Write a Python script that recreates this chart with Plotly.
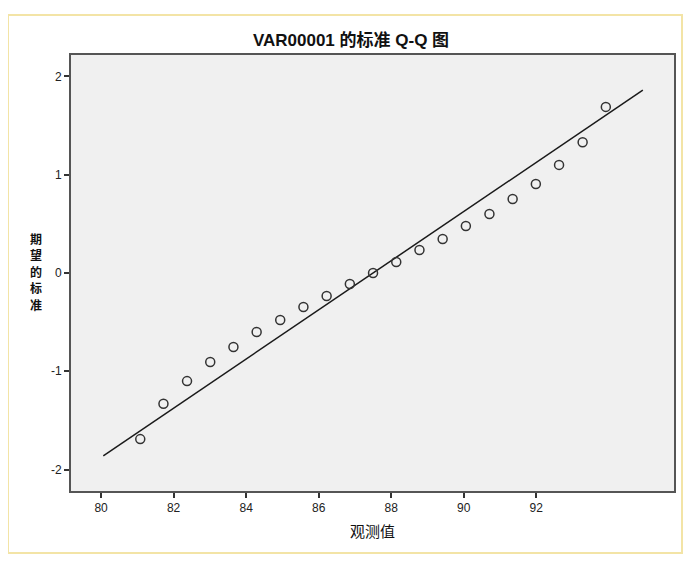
import plotly.graph_objects as go

# Data
observed = [81.08, 81.72, 82.37, 83.01, 83.65, 84.29, 84.94, 85.58, 86.22, 86.86,
            87.50, 88.14, 88.78, 89.42, 90.06, 90.71, 91.35, 91.99, 92.63, 93.28, 93.92]
expected = [-1.69, -1.33, -1.10, -0.905, -0.753, -0.60, -0.478, -0.346, -0.234, -0.112,
            0.0, 0.112, 0.234, 0.346, 0.478, 0.60, 0.753, 0.905, 1.10, 1.33, 1.69]
line_mean = 87.5
line_sd = 4.0
line_x = [80.06, 94.94]
line_y = [(v - line_mean) / line_sd for v in line_x]

x_ticks = [80, 82, 84, 86, 88, 90, 92]
y_ticks = [-2, -1, 0, 1, 2]

title_text = "VAR00001 的标准 Q-Q 图"
x_title = "观测值"
y_title = "期望的标准"

# page body has an 8px margin; figure placed at (8, 8)
OFF = 8
PL, PT, PW, PH = 71 - OFF, 55 - OFF, 603, 436
W, H = 694 - OFF, 568 - OFF

def px(x):
    return (x - OFF - PL) / PW

def py(y):
    return (PT + PH - (y - OFF)) / PH

fig = go.Figure()
fig.add_trace(go.Scatter(x=line_x, y=line_y, mode="lines",
                         line=dict(color="#1a1a1a", width=1.5),
                         showlegend=False, hoverinfo="skip"))
fig.add_trace(go.Scatter(x=observed, y=expected, mode="markers",
                         marker=dict(symbol="circle-open", size=9,
                                     color="#333333", line=dict(width=1.5)),
                         showlegend=False))

fig.update_layout(
    width=W, height=H,
    margin=dict(l=PL, r=W - PL - PW, t=PT, b=H - PT - PH),
    paper_bgcolor="white",
    plot_bgcolor="#F0F0F0",
    font=dict(family="Liberation Sans, Arial, Noto Sans CJK SC", size=12, color="#222222"),
    title=dict(text="<b>" + title_text + "</b>", x=0.5, xanchor="center",
               y=1 - (40 - OFF) / H, yanchor="middle",
               font=dict(size=17, color="#111111",
                         family="Liberation Sans, Arial, Noto Sans CJK SC")),
    xaxis=dict(range=[79.17, 95.8], tickvals=x_ticks, ticktext=[str(t) for t in x_ticks],
               showgrid=False, zeroline=False, showline=True, linecolor="#555555",
               linewidth=2, mirror=True, ticks="outside", ticklen=5, tickwidth=1.5,
               tickcolor="#333333", tickfont=dict(size=12, color="#222222")),
    yaxis=dict(range=[-2.218, 2.218], tickvals=y_ticks, ticktext=[str(t) for t in y_ticks],
               showgrid=False, zeroline=False, showline=True, linecolor="#555555",
               linewidth=2, mirror=True, ticks="outside", ticklen=5, tickwidth=1.5,
               tickcolor="#333333", tickfont=dict(size=12, color="#222222")),
)

# outer yellow frame
fig.add_shape(type="rect", xref="paper", yref="paper",
              x0=px(8), x1=px(682), y0=py(553), y1=py(15),
              line=dict(color="#F3E4A6", width=2), fillcolor="rgba(0,0,0,0)", layer="below")

# axis titles
fig.add_annotation(text=x_title, xref="paper", yref="paper",
                   x=px(372), y=py(530), showarrow=False,
                   xanchor="center", yanchor="middle",
                   font=dict(size=15, color="#111111", family="Noto Sans CJK SC"))
# vertical stacked y title, one character per annotation
n = len(y_title)
for i, ch in enumerate(y_title):
    cy = 271 + (i - (n - 1) / 2) * 16.5
    fig.add_annotation(text="<b>" + ch + "</b>", xref="paper", yref="paper",
                       x=px(36), y=py(cy), showarrow=False, borderpad=0,
                       xanchor="center", yanchor="middle",
                       font=dict(size=12, color="#111111", family="Noto Sans CJK SC"))

fig.write_html("out.html")
